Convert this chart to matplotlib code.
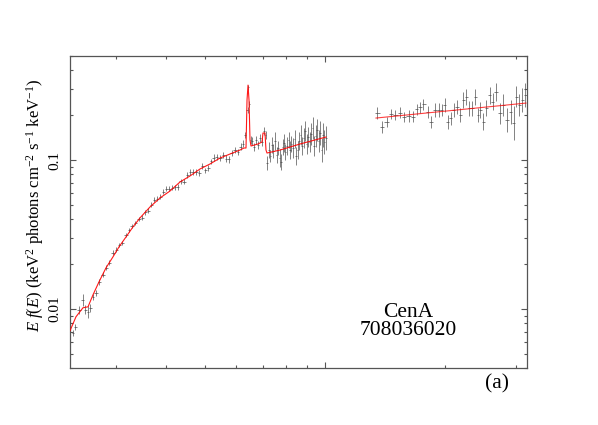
import numpy as np
import matplotlib
matplotlib.use("Agg")
import matplotlib.pyplot as plt
from matplotlib.ticker import FixedLocator, NullFormatter, FixedFormatter

plt.rcParams['font.family'] = ['Liberation Serif', 'DejaVu Serif']
plt.rcParams['mathtext.fontset'] = 'custom'
plt.rcParams['mathtext.rm'] = 'Liberation Serif'
plt.rcParams['mathtext.it'] = 'Liberation Serif:italic'

# ---------------- data (keV, keV^2 photons cm^-2 s^-1 keV^-1) ----------------
xis_energy = [2.344, 2.371, 2.427, 2.483, 2.512, 2.556, 2.586, 2.630, 2.676, 2.723,
              2.786, 2.835, 2.884, 2.951, 3.003, 3.055, 3.108, 3.181, 3.236, 3.292,
              3.350, 3.428,
              3.488, 3.548, 3.610, 3.673, 3.737, 3.802, 3.869, 3.936, 4.004, 4.074,
              4.145, 4.217, 4.290, 4.365, 4.441, 4.519, 4.597, 4.677, 4.759, 4.842,
              4.926, 5.012, 5.099, 5.188, 5.278, 5.370, 5.464, 5.559, 5.656, 5.754,
              5.854, 5.957, 6.060, 6.166, 6.237, 6.310,
              6.401, 6.420, 6.457, 6.513,
              6.569, 6.645, 6.722, 6.800, 6.879, 6.959, 7.039, 7.101,
              7.180, 7.244, 7.306, 7.370, 7.433, 7.499, 7.564, 7.629, 7.696, 7.762,
              7.830, 7.898, 7.966, 8.035, 8.105, 8.175, 8.246, 8.318, 8.390, 8.462,
              8.536, 8.610, 8.685, 8.760, 8.836, 8.913, 8.990, 9.068, 9.147, 9.226,
              9.306, 9.387, 9.468, 9.550, 9.633, 9.716, 9.801, 9.886, 9.971, 10.058]
xis_flux = [0.00690, 0.00757, 0.00985, 0.01149, 0.00985, 0.00955, 0.01016, 0.01204, 0.01281, 0.01518,
            0.01691, 0.01885, 0.02035, 0.02375, 0.02489, 0.02689, 0.02773, 0.03138, 0.03391, 0.03606,
            0.03777, 0.04018,
            0.04080, 0.04441, 0.04545, 0.04989, 0.05391, 0.05475, 0.05646, 0.06100, 0.06390, 0.06390,
            0.06490, 0.06540, 0.06591, 0.07186, 0.07162, 0.07930, 0.08308, 0.08308, 0.08333, 0.08219,
            0.09115, 0.08502, 0.08838, 0.09786, 0.1038, 0.1051, 0.1031, 0.1084, 0.1022, 0.1009,
            0.1111, 0.1167, 0.1132, 0.1232, 0.1290, 0.1472,
            0.2165, 0.3090, 0.2375, 0.1362,
            0.1341, 0.1222, 0.1362, 0.1261, 0.1405, 0.1321, 0.1565, 0.1472,
            0.0955, 0.1167, 0.1064, 0.1261, 0.1149, 0.1341, 0.1080, 0.1204, 0.1031, 0.0970,
            0.1222, 0.1300, 0.1132, 0.1242, 0.1362, 0.1167, 0.1281, 0.1204, 0.1383, 0.1064,
            0.1167, 0.1341, 0.1472, 0.1242, 0.1405, 0.1565, 0.1281, 0.1427, 0.1321, 0.1495,
            0.1640, 0.1242, 0.1449, 0.1590, 0.1341, 0.1518, 0.1167, 0.1472, 0.1321, 0.1405]
xis_relerr = [0.05, 0.05, 0.06, 0.10, 0.07, 0.10, 0.06, 0.05, 0.05, 0.045,
              0.04, 0.04, 0.04, 0.04, 0.04, 0.035, 0.035, 0.035, 0.035, 0.035,
              0.035, 0.035,
              0.04, 0.04, 0.04, 0.04, 0.04, 0.04, 0.04, 0.04, 0.04, 0.04,
              0.04, 0.04, 0.045, 0.045, 0.045, 0.045, 0.045, 0.045, 0.045, 0.045,
              0.045, 0.045, 0.045, 0.045, 0.05, 0.05, 0.05, 0.05, 0.05, 0.05,
              0.05, 0.05, 0.05, 0.05, 0.05, 0.05,
              0.05, 0.04, 0.05, 0.06,
              0.07, 0.07, 0.07, 0.07, 0.07, 0.07, 0.07, 0.07,
              0.114, 0.132, 0.097, 0.132, 0.114, 0.149, 0.132, 0.114, 0.149, 0.132,
              0.132, 0.149, 0.132, 0.149, 0.132, 0.149, 0.132, 0.167, 0.149, 0.149,
              0.149, 0.149, 0.167, 0.149, 0.167, 0.167, 0.167, 0.167, 0.167, 0.185,
              0.185, 0.167, 0.185, 0.185, 0.185, 0.204, 0.204, 0.204, 0.204, 0.204]

pin_energy = [13.51, 13.91, 14.26, 14.62, 14.99, 15.40, 15.78, 16.19, 16.57, 16.95,
              17.31, 17.61, 18.09, 18.41, 18.80, 19.24, 19.58, 19.95, 20.30, 20.62,
              21.01, 21.38, 21.76, 22.17, 22.52, 22.91, 23.31, 23.76, 24.13, 24.45,
              24.88, 25.30, 25.80, 26.26, 26.76, 27.38, 27.90, 28.55, 29.12, 29.63,
              30.03, 30.61, 31.14, 31.68]
pin_flux = [0.2077, 0.1673, 0.1807, 0.2026, 0.2004, 0.2077, 0.1934, 0.1974, 0.1952, 0.2189,
            0.2258, 0.2375, 0.2110, 0.1807, 0.2165, 0.2165, 0.2165, 0.2339, 0.1807, 0.1905,
            0.2165, 0.2279, 0.2004, 0.2527, 0.2660, 0.2223, 0.2223, 0.2660, 0.2004, 0.2165,
            0.1807, 0.2223, 0.2731, 0.2462, 0.2873, 0.2058, 0.2339, 0.1856, 0.2110, 0.1763,
            0.2660, 0.2339, 0.2527, 0.2731]
pin_relerr = [0.10, 0.10, 0.08, 0.08, 0.08, 0.09, 0.08, 0.09, 0.09, 0.09,
              0.09, 0.09, 0.10, 0.10, 0.11, 0.11, 0.10, 0.11, 0.11, 0.11,
              0.12, 0.11, 0.12, 0.13, 0.13, 0.12, 0.12, 0.13, 0.12, 0.13,
              0.14, 0.13, 0.14, 0.14, 0.15, 0.18, 0.18, 0.20, 0.20, 0.30,
              0.18, 0.18, 0.20, 0.20]

model_xis_energy = [2.304, 2.385, 2.483, 2.556, 2.630, 2.723, 2.835, 2.951, 3.055, 3.181,
                    3.311, 3.447, 3.652, 3.869, 4.099, 4.340, 4.597, 4.870, 5.158, 5.464,
                    5.788, 6.131, 6.273, 6.346, 6.383, 6.420, 6.457, 6.494, 6.531, 6.800,
                    6.959, 6.998, 7.079, 7.120, 7.161, 7.720, 8.660, 10.058]
model_xis_flux = [0.00712, 0.00884, 0.01016, 0.01031, 0.01241, 0.01518, 0.01885, 0.02234, 0.02607, 0.03042,
                  0.03552, 0.04080, 0.04836, 0.05559, 0.06194, 0.07116, 0.07809, 0.08703, 0.09401, 0.1031,
                  0.1097, 0.1167, 0.1204, 0.1204, 0.2527, 0.3187, 0.2527, 0.1362, 0.1242, 0.1281,
                  0.1321, 0.1518, 0.1518, 0.1167, 0.1114, 0.1167, 0.1281, 0.1427]
model_pin_energy = [13.41, 31.80]
model_pin_flux = [0.1914, 0.2413]

x_major = [10]
x_minor = [3, 4, 5, 6, 7, 8, 9, 20, 30]
y_major = [0.01, 0.1]
y_major_labels = ['0.01', '0.1']
y_minor = [0.004, 0.005, 0.006, 0.007, 0.008, 0.009,
           0.02, 0.03, 0.04, 0.05, 0.06, 0.07, 0.08, 0.09,
           0.2, 0.3, 0.4, 0.5]


def bin_halfwidths(e):
    e = np.asarray(e, dtype=float)
    mid = np.sqrt(e[:-1] * e[1:])
    left = np.concatenate([[e[0] ** 2 / mid[0]], mid])
    right = np.concatenate([mid, [e[-1] ** 2 / mid[-1]]])
    return np.vstack([e - left, right - e])


def log_err(f, r):
    f = np.asarray(f, dtype=float)
    r = np.asarray(r, dtype=float)
    return np.vstack([f - f / (1 + r), f * r])


fig = plt.figure(figsize=(5.98, 4.25), dpi=100)
ax = fig.add_axes([70 / 598, 1 - 368 / 425, 457 / 598, 312 / 425])
ax.set_xscale('log')
ax.set_yscale('log')

ecol = '#4a4a4a'
for e, f, r in [(xis_energy, xis_flux, xis_relerr), (pin_energy, pin_flux, pin_relerr)]:
    ax.errorbar(e, f, xerr=bin_halfwidths(e), yerr=log_err(f, r), fmt='none',
                ecolor=ecol, elinewidth=0.6, capsize=0, alpha=0.8, zorder=2)

ax.plot(model_xis_energy, model_xis_flux, color='red', lw=0.8, zorder=3, alpha=0.9)
ax.plot(model_pin_energy, model_pin_flux, color='red', lw=0.8, zorder=3, alpha=0.75)

ax.set_xlim(2.304, 31.99)
ax.set_ylim(0.004, 0.5)

ax.xaxis.set_major_locator(FixedLocator(x_major))
ax.xaxis.set_minor_locator(FixedLocator(x_minor))
ax.xaxis.set_major_formatter(NullFormatter())
ax.xaxis.set_minor_formatter(NullFormatter())
ax.yaxis.set_major_locator(FixedLocator(y_major))
ax.yaxis.set_major_formatter(FixedFormatter(y_major_labels))
ax.yaxis.set_minor_locator(FixedLocator(y_minor))
ax.yaxis.set_minor_formatter(NullFormatter())

spine_col = '#555555'
for s in ax.spines.values():
    s.set_color(spine_col)
    s.set_linewidth(0.9)
ax.tick_params(which='both', direction='in', top=True, right=True,
               color=spine_col, width=0.8)
ax.tick_params(which='major', length=4.5)
ax.tick_params(which='minor', length=2.3)
ax.tick_params(axis='y', which='major', labelrotation=90, pad=6, labelsize=11)
for t in ax.get_yticklabels():
    t.set_va('center')

fig.text(35 / 598, 1 - 205 / 425,
         r'$E\ f(E)$ (keV$^2$ photons cm$^{-2}$ s$^{-1}$ keV$^{-1}$)',
         rotation=90, ha='center', va='center', fontsize=12)

fig.text(408 / 598, 1 - 317 / 425, 'CenA', ha='center', va='baseline', fontsize=15.5)
fig.text(408 / 598, 1 - 335 / 425, '708036020', ha='center', va='baseline', fontsize=15.5)
fig.text(497 / 598, 1 - 388 / 425, '(a)', ha='center', va='baseline', fontsize=15.5)

fig.savefig('out.png', dpi=100)
